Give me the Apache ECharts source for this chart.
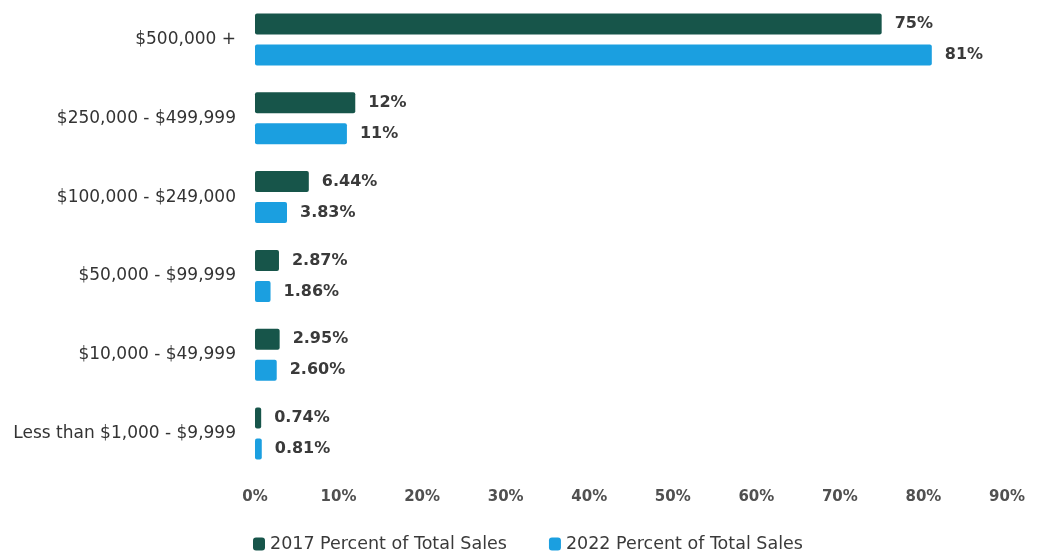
<!DOCTYPE html>
<html>
<head>
<meta charset="utf-8">
<script src="https://cdn.jsdelivr.net/npm/echarts@6/dist/echarts.min.js"></script>
<style>
  html, body { margin: 0; padding: 0; background: #ffffff; }
  #chart { width: 1037px; height: 557px; }
</style>
</head>
<body>
<div id="chart"></div>
<script>
// Sales-size brackets, bottom to top
const categories = [
  'Less than $1,000 - $9,999',
  '$10,000 - $49,999',
  '$50,000 - $99,999',
  '$100,000 - $249,000',
  '$250,000 - $499,999',
  '$500,000 +'
];
// Share of total sales per bracket (%)
const sales2017 = [0.74, 2.95, 2.87, 6.44, 12, 75];
const sales2022 = [0.81, 2.60, 1.86, 3.83, 11, 81];
const seriesNames = ['2017 Percent of Total Sales', '2022 Percent of Total Sales'];
const xTicks = [0, 10, 20, 30, 40, 50, 60, 70, 80, 90];

const fontFamily = 'DejaVu Sans, sans-serif';
const chart = echarts.init(document.getElementById('chart'));

// Whole percentages print bare, fractional ones with two decimals
const pct = v => (Number.isInteger(v) ? String(v) : v.toFixed(2)) + '%';

const valueLabel = {
  show: true,
  position: 'right',
  distance: 13,
  color: '#3a3a3a',
  fontWeight: 'bold',
  fontSize: 16,
  fontFamily: fontFamily,
  formatter: p => pct(p.value)
};

chart.setOption({
  animation: false,
  grid: { left: 255, right: 30, top: -5, height: 478, containLabel: false },
  legend: {
    top: 530,
    left: 248,
    itemWidth: 12,
    itemHeight: 13,
    itemGap: 42,
    icon: 'roundRect',
    textStyle: { color: '#3a3a3a', fontSize: 17.5, fontFamily: fontFamily },
    data: seriesNames
  },
  xAxis: {
    type: 'value',
    min: xTicks[0],
    max: xTicks[xTicks.length - 1],
    interval: 10,
    axisLine: { show: false },
    axisTick: { show: false },
    splitLine: { show: false },
    axisLabel: {
      color: '#505050',
      fontSize: 15,
      fontWeight: 'bold',
      fontFamily: fontFamily,
      margin: 17,
      formatter: v => v + '%'
    }
  },
  yAxis: {
    type: 'category',
    data: categories,
    axisLine: { show: false },
    axisTick: { show: false },
    axisLabel: {
      color: '#333333',
      fontSize: 17,
      fontFamily: fontFamily,
      margin: 19
    }
  },
  series: [
    {
      name: seriesNames[0],
      type: 'bar',
      data: sales2017,
      barWidth: 21,
      barGap: '48%',
      itemStyle: { color: '#17554a', borderRadius: 2 },
      label: valueLabel
    },
    {
      name: seriesNames[1],
      type: 'bar',
      data: sales2022,
      barWidth: 21,
      itemStyle: { color: '#1b9fe0', borderRadius: 2 },
      label: valueLabel
    }
  ]
});
</script>
</body>
</html>
